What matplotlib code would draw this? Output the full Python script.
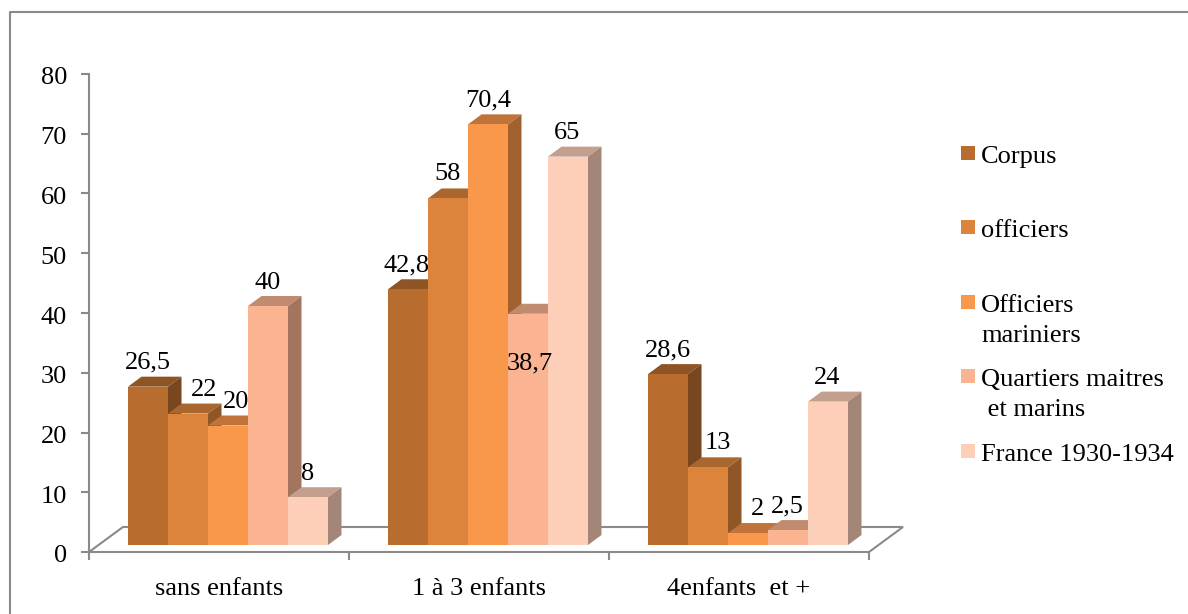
# %%
import numpy as np
import matplotlib
matplotlib.use('Agg')
import matplotlib.pyplot as plt
from matplotlib.lines import Line2D
from matplotlib.patches import Rectangle
from matplotlib.transforms import ScaledTranslation

plt.rcParams['font.family'] = ['Liberation Serif', 'DejaVu Serif']

# %%
# Values

categories = ['sans enfants', '1 à 3 enfants', '4enfants  et +']
series_names = ['Corpus', 'officiers', 'Officiers\nmariniers',
                'Quartiers maitres\n et marins', 'France 1930-1934']

corpus = [26.5, 42.8, 28.6]
officiers = [22, 58, 13]
officiers_mariniers = [20, 70.4, 2]
quartiers_marins = [40, 38.7, 2.5]
france = [8, 65, 24]

corpus_labels = ['26,5', '42,8', '28,6']
officiers_labels = ['22', '58', '13']
officiers_mariniers_labels = ['20', '70,4', '2']
quartiers_marins_labels = ['40', '38,7', '2,5']
france_labels = ['8', '65', '24']

colors = ['#B86D2F', '#DC843C', '#F9974A', '#FBB491', '#FDCEB8']

all_series = [corpus, officiers, officiers_mariniers, quartiers_marins, france]
all_labels = [corpus_labels, officiers_labels, officiers_mariniers_labels,
              quartiers_marins_labels, france_labels]

# Label nudges in pixels (x per series and group), the default y is above the bar
label_dx = [[0, -1, 0], [16, 0, 10], [8, 0, 10], [0, 2, -1], [0, -1, -1]]
label_dy = [[24, 24, 24], [24, 24, 24], [24, 24, 24], [23, -50, 24], [23, 24, 24]]

# %%
# Figure and axes, sized in pixels like the original

W, H = 1188, 614
fig = plt.figure(figsize=(W / 100, H / 100), dpi=100, facecolor='white')
ax = fig.add_axes([89 / W, (H - 552) / H, 780 / W, 478 / H])
ax.set_xlim(0, 3)
ax.set_ylim(0, 80)
ax.patch.set_alpha(0)

px_x = 3 / 780    # one pixel in x data units
px_y = 80 / 478   # one pixel in y data units

GREY = '#8A8A8A'
for side in ['top', 'right']:
    ax.spines[side].set_visible(False)
for side in ['left', 'bottom']:
    ax.spines[side].set_color(GREY)
    ax.spines[side].set_linewidth(1.5)

ax.set_yticks(np.arange(0, 81, 10))
ax.tick_params(axis='y', labelsize=19, length=5.8, width=1.5, color=GREY, pad=10)
for label in ax.get_yticklabels():
    label.set_transform(label.get_transform() + ScaledTranslation(0, -2 / 100, fig.dpi_scale_trans))
ax.set_xticks([0, 1, 2, 3])
ax.set_xticklabels([])
ax.set_xticks([0.5, 1.5, 2.5], minor=True)
ax.set_xticklabels(categories, minor=True, fontsize=19)
ax.tick_params(axis='x', which='major', length=5.8, width=1.5, color=GREY)
ax.tick_params(axis='x', which='minor', length=0, pad=19)

# %%
# Floor of the 3D box

floor_dx = 34 * px_x
floor_dy = 25 * px_y
ax.plot([0, floor_dx, 3 + floor_dx, 3], [0, floor_dy, floor_dy, 0],
        color=GREY, lw=1.5, clip_on=False, zorder=1, solid_joinstyle='miter')

# %%
# Bars: front face with the library, then top and side faces from the same values

bar_w = 40 * px_x
depth_x = 13.5 * px_x
depth_y = 10 * px_y
base = 7 * px_y
group_start = 39 * px_x

z = 2
for s, values in enumerate(all_series):
    color = np.array(matplotlib.colors.to_rgb(colors[s]))
    for g, value in enumerate(values):
        x0 = g + group_start + s * bar_w
        x1 = x0 + bar_w
        top = base + value
        ax.fill([x0, x1, x1 + depth_x, x0 + depth_x],
                [top, top, top + depth_y, top + depth_y],
                color=color * 0.77, lw=0, zorder=z, clip_on=False)
        ax.fill([x1, x1 + depth_x, x1 + depth_x, x1],
                [base, base + depth_y, top + depth_y, top],
                color=color * 0.65, lw=0, zorder=z, clip_on=False)
        ax.bar(x0, value, width=bar_w, bottom=base, align='edge',
               color=colors[s], lw=0, zorder=z + 0.5)
        z += 1

# Data labels stay above all the faces
for s, values in enumerate(all_series):
    for g, value in enumerate(values):
        x = g + group_start + (s + 0.5) * bar_w
        ax.annotate(all_labels[s][g], (x, base + value),
                    xytext=(label_dx[s][g], label_dy[s][g]),
                    textcoords='offset pixels', ha='center', va='center',
                    fontsize=19, color='black', zorder=100, annotation_clip=False)

# %%
# Legend placed by hand, entries are evenly spaced but some have two lines

legend_y = [146, 220, 295, 369, 444]
for name, color, y in zip(series_names, colors, legend_y):
    fig.add_artist(Rectangle((961 / W, 1 - (y + 14) / H), 14 / W, 14 / H,
                             transform=fig.transFigure, color=color, lw=0))
    fig.text(981 / W, 1 - y / H, name, fontsize=19, color='black',
             ha='left', va='top', linespacing=1.47)

# Outer frame: only the left and top edges show in the picture
fig.add_artist(Line2D([9.5 / W, 9.5 / W, 1], [0, 1 - 12 / H, 1 - 12 / H],
                      color=GREY, lw=1.5, transform=fig.transFigure))

fig.savefig('out.png', dpi=100)
